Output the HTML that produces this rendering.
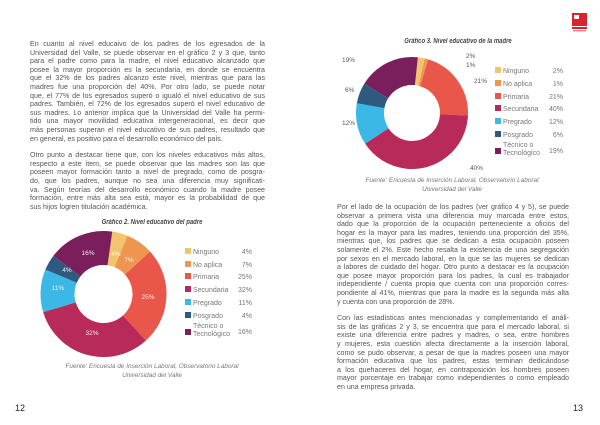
<!DOCTYPE html>
<html><head><meta charset="utf-8"><style>
body{margin:0;width:600px;height:425px;background:#fff;position:relative;overflow:hidden;font-family:"Liberation Sans",sans-serif;}
.col{position:absolute;font-size:7.1px;color:#555;line-height:8.6px;}
.col div{text-align:justify;text-align-last:justify;white-space:nowrap;}
.col div.l{text-align-last:left;}
.t{position:absolute;font-size:7px;font-style:italic;font-weight:bold;color:#444;transform:scaleX(0.85);transform-origin:center;white-space:nowrap;}
.f{position:absolute;font-size:6.4px;font-style:italic;color:#777;text-align:center;line-height:9px;white-space:nowrap;}
.pn{position:absolute;font-size:9px;color:#222;}
</style></head><body>
<div class="col" style="left:30px;top:40px;width:235px">
<div>En cuanto al nivel educaivo de los padres de los egresados de la</div>
<div>Universidad del Valle, se puede observar en el gráfico 2 y 3 que, tanto</div>
<div>para el padre como para la madre, el nivel educativo alcanzado que</div>
<div>posee la mayor proporción es la secundaria, en donde se encuentra</div>
<div>que el 32% de los padres alcanzo este nivel, mientras que para las</div>
<div>madres fue una proporción del 40%. Por otro lado, se puede notar</div>
<div>que, el 77% de los egresados superó o igualó el nivel educativo de sus</div>
<div>padres. También, el 72% de los egresados superó el nivel educativo de</div>
<div>sus madres. Lo anterior implica que la Universidad del Valle ha permi-</div>
<div>tido una mayor movilidad educativa intergeneracional, es decir que</div>
<div>más personas superan el nivel educativo de sus padres, resultado que</div>
<div class="l">en general, es positivo para el desarrollo económico del país.</div>
<div style="height:8px"></div>
<div>Otro punto a destacar tiene que, con los niveles educativos más altos,</div>
<div>respecto a este ítem, se puede observar que las madres son las que</div>
<div>poseen mayor formación tanto a nivel de pregrado, como de posgra-</div>
<div>do, que los padres, aunque no sea una diferencia muy significati-</div>
<div>va. Según teorías del desarrollo económico cuando la madre posee</div>
<div>formación, entre más alta sea está, mayor es la probabilidad de que</div>
<div class="l">sus hijos logren titulación académica.</div>
</div>

<div class="col" style="left:337px;top:203px;width:232px">
<div>Por el lado de la ocupación de los padres (ver gráfico 4 y 5), se puede</div>
<div>observar a primera vista una diferencia muy marcada entre estos,</div>
<div>dado que la proporción de la ocupación perteneciente a oficios del</div>
<div>hogar es la mayor para las madres, teniendo una proporción del 35%,</div>
<div>mientras que, los padres que se dedican a esta ocupación poseen</div>
<div>solamente el 2%. Este hecho resalta la existencia de una segregación</div>
<div>por sexos en el mercado laboral, en la que se las mujeres se dedican</div>
<div>a labores de cuidado del hogar. Otro punto a destacar es la ocupación</div>
<div>que posee mayor proporción para los padres, la cual es trabajador</div>
<div>independiente / cuenta propia que cuenta con una proporción corres-</div>
<div>pondiente al 41%, mientras que para la madre es la segunda más alta</div>
<div class="l">y cuenta con una proporción de 28%.</div>
<div style="height:8px"></div>
<div>Con las estadísticas antes mencionadas y complementando el análi-</div>
<div>sis de las gráficas 2 y 3, se encuentra que para el mercado laboral, si</div>
<div>existe una diferencia entre padres y madres, o sea, entre hombres</div>
<div>y mujeres, esta cuestión afecta directamente a la inserción laboral,</div>
<div>como se pudo observar, a pesar de que la madres poseen una mayor</div>
<div>formación educativa que los padres, estas terminan dedicándose</div>
<div>a los quehaceres del hogar, en contraposición los hombres poseen</div>
<div>mayor porcentaje en trabajar como independientes o como empleado</div>
<div class="l">en una empresa privada.</div>
</div>

<div class="t" style="left:82px;top:219px;width:140px;text-align:center">Gráfico 2. Nivel educativo del padre</div>
<div class="t" style="left:388px;top:38px;width:140px;text-align:center">Gráfico 3. Nivel educativo de la madre</div>

<svg width="600" height="425" style="position:absolute;left:0;top:0" font-family="Liberation Sans, sans-serif">
<!-- chart 2 -->
<g transform="translate(103.5,294) rotate(-82)" fill="none" stroke-width="34">
<circle r="46" stroke="#f2c46e" stroke-dasharray="11.56 300" stroke-dashoffset="0"/>
<circle r="46" stroke="#f0954f" stroke-dasharray="20.23 300" stroke-dashoffset="-11.56"/>
<circle r="46" stroke="#e9574a" stroke-dasharray="72.26 300" stroke-dashoffset="-31.79"/>
<circle r="46" stroke="#b82a5a" stroke-dasharray="92.49 300" stroke-dashoffset="-104.05"/>
<circle r="46" stroke="#3bb8e6" stroke-dasharray="31.79 300" stroke-dashoffset="-196.54"/>
<circle r="46" stroke="#2d5a7e" stroke-dasharray="11.56 300" stroke-dashoffset="-228.33"/>
<circle r="46" stroke="#7a1f5c" stroke-dasharray="49.13 300" stroke-dashoffset="-239.89"/>
</g>
<g font-size="6.5" fill="#fff" text-anchor="middle" opacity="0.9">
<text x="88" y="255">16%</text><text x="67" y="272">4%</text><text x="58" y="290">11%</text>
<text x="92" y="335">32%</text><text x="148" y="299">25%</text><text x="129" y="262">7%</text><text x="116" y="256">4%</text>
</g>
<!-- chart 3 -->
<g transform="translate(412,113) rotate(-84)" fill="none" stroke-width="28">
<circle r="42" stroke="#f2c46e" stroke-dasharray="5.28 300" stroke-dashoffset="0"/>
<circle r="42" stroke="#f0954f" stroke-dasharray="2.64 300" stroke-dashoffset="-5.28"/>
<circle r="42" stroke="#e9574a" stroke-dasharray="55.42 300" stroke-dashoffset="-7.92"/>
<circle r="42" stroke="#b82a5a" stroke-dasharray="105.56 300" stroke-dashoffset="-63.34"/>
<circle r="42" stroke="#3bb8e6" stroke-dasharray="31.67 300" stroke-dashoffset="-168.9"/>
<circle r="42" stroke="#2d5a7e" stroke-dasharray="15.83 300" stroke-dashoffset="-200.57"/>
<circle r="42" stroke="#7a1f5c" stroke-dasharray="47.5 300" stroke-dashoffset="-216.4"/>
</g>
<g font-size="6.5" fill="#555">
<text x="342" y="62">19%</text><text x="345" y="92">6%</text><text x="342" y="125">12%</text>
<text x="466" y="58">2%</text><text x="466" y="67">1%</text><text x="474" y="83">21%</text><text x="470" y="170">40%</text>
</g>
<!-- legends -->
<g font-size="7" fill="#777">
<rect x="185" y="248" width="6" height="6" fill="#f2c46e"/><text x="193" y="254">Ninguno</text><text x="252" y="254" text-anchor="end">4%</text>
<rect x="185" y="261" width="6" height="6" fill="#f0954f"/><text x="193" y="267">No aplica</text><text x="252" y="267" text-anchor="end">7%</text>
<rect x="185" y="273" width="6" height="6" fill="#e9574a"/><text x="193" y="279">Primaria</text><text x="252" y="279" text-anchor="end">25%</text>
<rect x="185" y="286" width="6" height="6" fill="#b82a5a"/><text x="193" y="292">Secundaria</text><text x="252" y="292" text-anchor="end">32%</text>
<rect x="185" y="299" width="6" height="6" fill="#3bb8e6"/><text x="193" y="305">Pregrado</text><text x="252" y="305" text-anchor="end">11%</text>
<rect x="185" y="312" width="6" height="6" fill="#2d5a7e"/><text x="193" y="318">Posgrado</text><text x="252" y="318" text-anchor="end">4%</text>
<rect x="185" y="329" width="6" height="6" fill="#7a1f5c"/><text x="193" y="328">Técnico o</text><text x="193" y="336">Tecnológico</text><text x="252" y="334" text-anchor="end">16%</text>

<rect x="495" y="67" width="6" height="6" fill="#f2c46e"/><text x="503" y="73">Ninguno</text><text x="563" y="73" text-anchor="end">2%</text>
<rect x="495" y="80" width="6" height="6" fill="#f0954f"/><text x="503" y="86">No aplica</text><text x="563" y="86" text-anchor="end">1%</text>
<rect x="495" y="93" width="6" height="6" fill="#e9574a"/><text x="503" y="99">Primaria</text><text x="563" y="99" text-anchor="end">21%</text>
<rect x="495" y="105" width="6" height="6" fill="#b82a5a"/><text x="503" y="111">Secundaria</text><text x="563" y="111" text-anchor="end">40%</text>
<rect x="495" y="118" width="6" height="6" fill="#3bb8e6"/><text x="503" y="124">Pregrado</text><text x="563" y="124" text-anchor="end">12%</text>
<rect x="495" y="131" width="6" height="6" fill="#2d5a7e"/><text x="503" y="137">Posgrado</text><text x="563" y="137" text-anchor="end">6%</text>
<rect x="495" y="148" width="6" height="6" fill="#7a1f5c"/><text x="503" y="147">Técnico o</text><text x="503" y="155">Tecnológico</text><text x="563" y="153" text-anchor="end">19%</text>
</g>
<!-- logo -->
<rect x="572" y="13" width="15" height="13" fill="#d9232e"/>
<rect x="574" y="15" width="5" height="4" fill="#fff"/>
<rect x="572" y="27" width="15" height="2" fill="#d9232e"/>
<rect x="573" y="30" width="13" height="1.5" fill="#e88"/>
</svg>

<div class="f" style="left:22px;top:362px;width:260px">Fuente: Encuesta de Inserción Laboral, Observatorio Laboral<br>Universidad del Valle</div>
<div class="f" style="left:322px;top:176px;width:260px">Fuente: Encuesta de Inserción Laboral, Observatorio Laboral<br>Universidad del Valle</div>
<div class="pn" style="left:15px;top:403px">12</div>
<div class="pn" style="left:573px;top:403px">13</div>
</body></html>
